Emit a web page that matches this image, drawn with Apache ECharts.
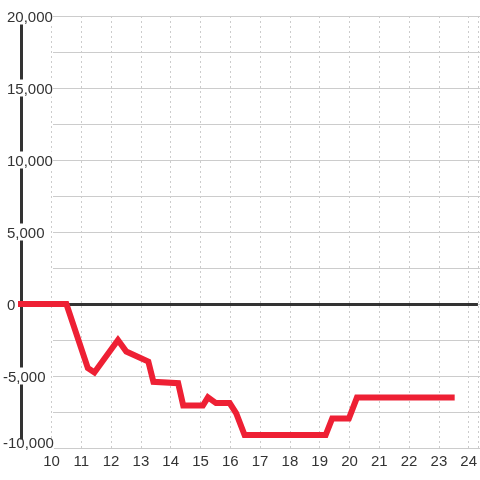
<!DOCTYPE html>
<html>
<head>
<meta charset="utf-8">
<script src="https://cdn.jsdelivr.net/npm/echarts@6/dist/echarts.min.js"></script>
<style>
  html, body { margin: 0; padding: 0; background: #fff; }
  #chart { width: 480px; height: 480px; }
</style>
</head>
<body>
<div id="chart"></div>
<script>
// hour of day vs running total
const hours = [8.87, 10.5, 11.22, 11.44, 12.23, 12.51, 13.25, 13.42, 14.25, 14.42, 15.08, 15.25, 15.52, 15.98, 16.2, 16.48, 19.2, 19.42, 19.98, 20.25, 23.53];
const totals = [0, 0, -4450, -4750, -2500, -3300, -4000, -5400, -5500, -7050, -7050, -6480, -6880, -6880, -7600, -9100, -9100, -7950, -7950, -6500, -6500];

const xMin = 9, xMax = 24.31;
const yMin = -10000, yMax = 20000;

const numFmt = new Intl.NumberFormat('en-US');
const textColor = '#333';

const chart = echarts.init(document.getElementById('chart'));

chart.setOption({
  backgroundColor: '#fff',
  animation: false,
  grid: [
    { left: 20.7, right: 0, top: 16, bottom: 32 },
    // only here for the horizontal rules, which start right of the labels
    { left: 53, right: 0, top: 16, bottom: 32 }
  ],
  xAxis: [{
    type: 'value',
    gridIndex: 0,
    min: xMin,
    max: xMax,
    interval: 1,
    axisLine: { show: false },
    axisTick: { show: false },
    axisLabel: {
      color: textColor,
      fontFamily: 'Liberation Sans, Arial, sans-serif',
      fontSize: 15,
      margin: 6,
      showMinLabel: false,
      showMaxLabel: false
    },
    splitLine: {
      show: true,
      lineStyle: { color: '#ccc', type: [2, 3], width: 1 }
    }
  }, {
    type: 'value',
    gridIndex: 1,
    min: xMin,
    max: xMax,
    show: false
  }],
  yAxis: [{
    type: 'value',
    gridIndex: 0,
    min: yMin,
    max: yMax,
    interval: 2500,
    axisLine: { show: true, lineStyle: { color: '#333', width: 3 } },
    axisTick: { show: false },
    splitLine: { show: false },
    axisLabel: {
      color: textColor,
      fontFamily: 'Liberation Sans, Arial, sans-serif',
      fontSize: 15,
      align: 'left',
      margin: 18.7,
      lineHeight: 14,
      backgroundColor: '#fff',
      padding: [3, 0, 0, 0],
      formatter: function (v) {
        if (v % 5000 !== 0) return '';
        const s = numFmt.format(v);
        if (v === yMin) return '{m|' + s + '}';
        return v < 0 ? s : '{p| }' + s;
      },
      rich: {
        p: { width: 4 },
        m: { fontSize: 15, color: textColor, padding: [0, 0, 12, 0] }
      }
    }
  }, {
    type: 'value',
    gridIndex: 1,
    min: yMin,
    max: yMax,
    interval: 2500,
    axisLine: { show: false },
    axisTick: { show: false },
    axisLabel: { show: false },
    splitLine: { show: true, lineStyle: { color: '#ccc', width: 1 } }
  }],
  series: [{
    type: 'line',
    xAxisIndex: 0,
    yAxisIndex: 0,
    data: hours.map((h, i) => [h, totals[i]]),
    showSymbol: false,
    clip: false,
    z: 5,
    lineStyle: { color: '#ee2034', width: 6, cap: 'butt', join: 'miter' },
    markLine: {
      silent: true,
      symbol: 'none',
      z: 3,
      label: { show: false },
      lineStyle: { color: '#333', width: 3, type: 'solid' },
      data: [{ yAxis: 0 }]
    }
  }]
});
</script>
</body>
</html>
